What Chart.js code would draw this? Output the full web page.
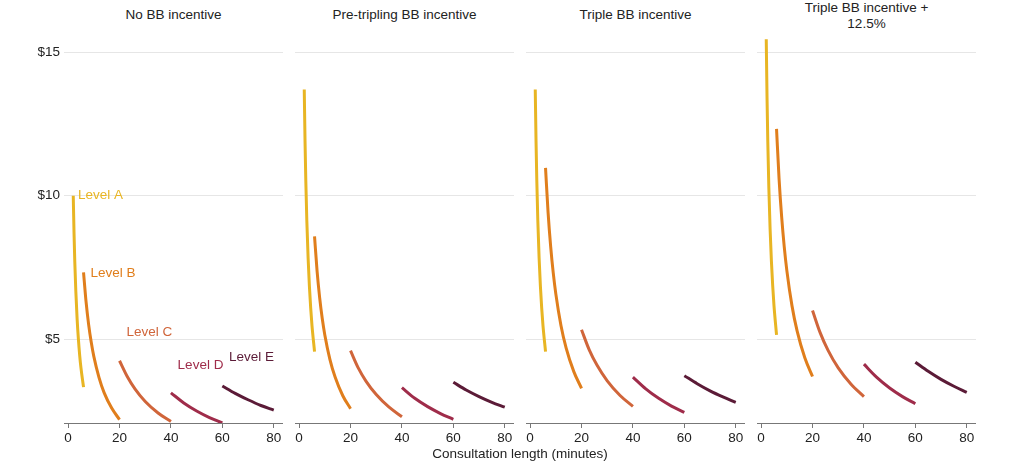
<!DOCTYPE html>
<html lang="en">
<head>
    <meta charset="UTF-8">
    <title>Consultation length vs rate per minute</title>
    <script src="https://cdn.jsdelivr.net/npm/chart.js@4.4.0/dist/chart.umd.min.js"></script>
    <style>
        body {
            margin: 0;
            background: #fff;
            font-family: "Liberation Sans", Arial, sans-serif;
        }
        .wrap {
            position: relative;
            width: 1024px;
            height: 464px;
        }
        .panel {
            position: absolute;
            top: 35px;
            height: 418px;
        }
        .title {
            position: absolute;
            width: 219px;
            text-align: center;
            font-size: 13.5px;
            line-height: 16px;
            color: #222;
        }
        .xtitle {
            position: absolute;
            left: 320px;
            width: 400px;
            top: 446px;
            text-align: center;
            font-size: 13.5px;
            color: #222;
        }
    </style>
</head>
<body>
<div class="wrap">
    <div class="title" style="left:64px; top:7px;">No BB incentive</div>
    <div class="title" style="left:295px; top:7px;">Pre-tripling BB incentive</div>
    <div class="title" style="left:526px; top:7px;">Triple BB incentive</div>
    <div class="title" style="left:757px; top:0px;">Triple BB incentive +<br>12.5%</div>

    <div class="panel" style="left:0px; width:283px;"><canvas id="p1"></canvas></div>
    <div class="panel" style="left:295px; width:219px;"><canvas id="p2"></canvas></div>
    <div class="panel" style="left:526px; width:219px;"><canvas id="p3"></canvas></div>
    <div class="panel" style="left:757px; width:219px;"><canvas id="p4"></canvas></div>

    <div class="xtitle">Consultation length (minutes)</div>
</div>

<script>
    // minutes
    const levelNames = ['Level A', 'Level B', 'Level C', 'Level D', 'Level E'];
    const xA = [2, 2.3, 2.6, 3, 3.5, 4, 4.5, 5, 6];
    const xB = [6, 7, 8, 9, 10, 12, 14, 17, 20];
    const xC = [20, 23, 26, 30, 35, 40];
    const xD = [40, 45, 50, 55, 60];
    const xE = [60, 65, 70, 75, 80];

    // $ per minute
    // No BB incentive
    const noA = [10.0, 8.7, 7.69, 6.67, 5.71, 5.0, 4.44, 4.0, 3.33];
    const noB = [7.33, 6.29, 5.5, 4.89, 4.4, 3.67, 3.14, 2.59, 2.2];
    const noC = [4.25, 3.7, 3.27, 2.83, 2.43, 2.13];
    const noD = [3.13, 2.78, 2.5, 2.27, 2.08];
    const noE = [3.37, 3.11, 2.89, 2.69, 2.53];
    // Pre-tripling BB incentive
    const preA = [13.7, 11.91, 10.54, 9.13, 7.83, 6.85, 6.09, 5.48, 4.57];
    const preB = [8.58, 7.36, 6.44, 5.72, 5.15, 4.29, 3.68, 3.03, 2.58];
    const preC = [4.6, 4.0, 3.54, 3.07, 2.63, 2.3];
    const preD = [3.31, 2.94, 2.65, 2.41, 2.21];
    const preE = [3.5, 3.23, 3.0, 2.8, 2.63];
    // Triple BB incentive
    const triA = [13.7, 11.91, 10.54, 9.13, 7.83, 6.85, 6.09, 5.48, 4.57];
    const triB = [10.97, 9.4, 8.23, 7.31, 6.58, 5.48, 4.7, 3.87, 3.29];
    const triC = [5.33, 4.63, 4.1, 3.55, 3.04, 2.66];
    const triD = [3.68, 3.27, 2.94, 2.67, 2.45];
    const triE = [3.73, 3.45, 3.2, 2.99, 2.8];
    // Triple BB incentive + 12.5%
    const plusA = [15.45, 13.43, 11.88, 10.3, 8.83, 7.73, 6.87, 6.18, 5.15];
    const plusB = [12.33, 10.57, 9.25, 8.22, 7.4, 6.17, 5.29, 4.35, 3.7];
    const plusC = [6.0, 5.22, 4.62, 4.0, 3.43, 3.0];
    const plusD = [4.13, 3.67, 3.3, 3.0, 2.75];
    const plusE = [4.2, 3.88, 3.6, 3.36, 3.15];

    const xTicks = [0, 20, 40, 60, 80];
    const yTicks = [5, 10, 15];

    // where the curve labels sit in the first panel
    const labelX = [3.8, 8.7, 22.7, 42.6, 62.6];
    const labelY = [10.0, 7.31, 5.23, 4.1, 4.37];

    const colors = ['#e8b523', '#e07e1c', '#d0653a', '#9f2c4a', '#5b1b37'];
    const xs = [xA, xB, xC, xD, xE];
    const fontFam = '"Liberation Sans", Arial, sans-serif';

    function toPoints(xv, yv) {
        return xv.map((x, i) => ({x: x, y: yv[i]}));
    }

    // small plugin: writes Level A..E next to the curves
    const levelLabels = {
        id: 'levelLabels',
        afterDatasetsDraw(chart, args, opts) {
            if (!opts.show) return;
            const c = chart.ctx;
            const sx = chart.scales.x, sy = chart.scales.y;
            c.save();
            c.font = '13.5px ' + fontFam;
            c.textAlign = 'left';
            c.textBaseline = 'middle';
            levelNames.forEach((n, i) => {
                c.fillStyle = colors[i];
                c.fillText(n, sx.getPixelForValue(labelX[i]), sy.getPixelForValue(labelY[i]));
            });
            c.restore();
        }
    };

    function makePanel(id, series, withY) {
        const yW = withY ? 64 : 0;
        new Chart(document.getElementById(id), {
            type: 'line',
            data: {
                datasets: series.map((s, i) => ({
                    label: levelNames[i],
                    data: toPoints(xs[i], s),
                    borderColor: colors[i],
                    borderWidth: 3,
                    pointRadius: 0,
                    fill: false,
                    cubicInterpolationMode: 'monotone'
                }))
            },
            options: {
                responsive: true,
                maintainAspectRatio: false,
                animation: false,
                layout: {padding: 0},
                plugins: {
                    legend: {display: false},
                    tooltip: {enabled: false},
                    levelLabels: {show: withY}
                },
                scales: {
                    x: {
                        type: 'linear',
                        min: -1.6,
                        max: 83.6,
                        afterBuildTicks: a => { a.ticks = xTicks.map(v => ({value: v})); },
                        afterFit: a => { a.height = 30; a.paddingLeft = 0; a.paddingRight = 0; },
                        grid: {display: true, drawOnChartArea: false, drawTicks: true, tickLength: 5, color: '#777'},
                        border: {display: true, color: '#777', width: 1},
                        ticks: {
                            color: '#222',
                            padding: 2,
                            font: {size: 13.5, family: fontFam}
                        }
                    },
                    y: {
                        type: 'linear',
                        min: 2.08,
                        max: 15.6,
                        afterBuildTicks: a => { a.ticks = yTicks.map(v => ({value: v})); },
                        afterFit: a => { a.width = yW; a.paddingTop = 0; a.paddingBottom = 0; },
                        grid: {color: '#e6e6e6', drawTicks: false},
                        border: {display: false},
                        ticks: {
                            display: withY,
                            color: '#222',
                            padding: 4,
                            font: {size: 13.5, family: fontFam},
                            callback: v => '$' + v
                        }
                    }
                }
            },
            plugins: [levelLabels]
        });
    }

    makePanel('p1', [noA, noB, noC, noD, noE], true);
    makePanel('p2', [preA, preB, preC, preD, preE], false);
    makePanel('p3', [triA, triB, triC, triD, triE], false);
    makePanel('p4', [plusA, plusB, plusC, plusD, plusE], false);
</script>
</body>
</html>
